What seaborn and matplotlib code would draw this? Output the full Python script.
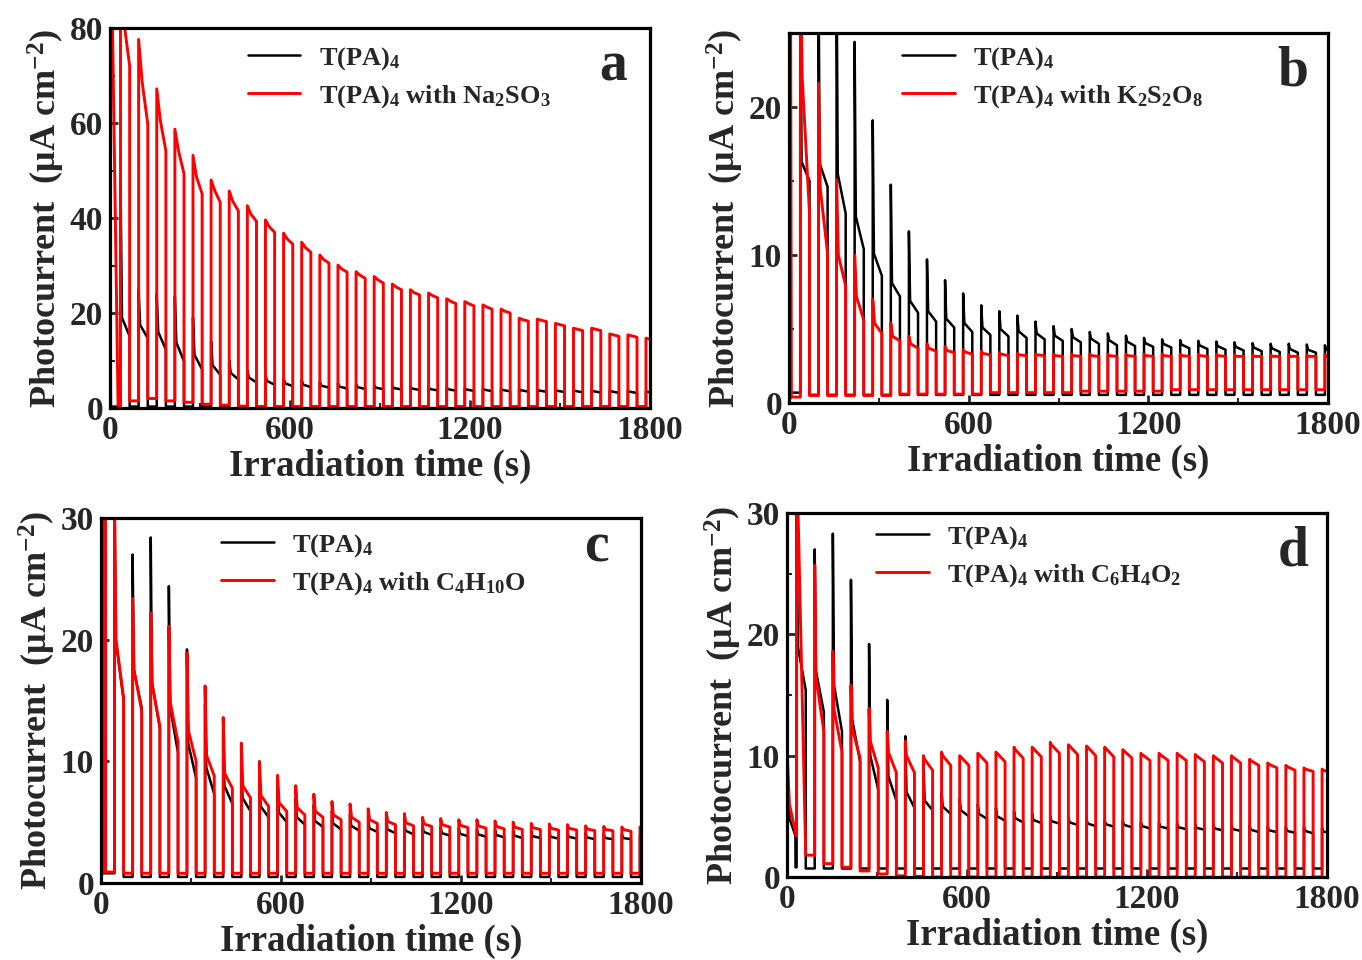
import numpy as np
import pandas as pd
import matplotlib
matplotlib.use("Agg")
import matplotlib.pyplot as plt
from matplotlib.ticker import MultipleLocator
import seaborn as sns

sns.set_style("ticks")
plt.rcParams["font.family"] = ["Liberation Serif", "DejaVu Serif"]
plt.rcParams["font.weight"] = "bold"
plt.rcParams["axes.labelweight"] = "bold"
plt.rcParams["mathtext.fontset"] = "custom"
plt.rcParams["mathtext.rm"] = "Liberation Serif:bold"
plt.rcParams["mathtext.bf"] = "Liberation Serif:bold"
plt.rcParams["mathtext.it"] = "Liberation Serif:bold:italic"

# ---------------- chopping protocol (s) ----------------
PERIOD = 60.4
ON_TIME = 30.5
first_on = {"a": 35, "b": 38, "c": 45, "d": 32}

# ---------------- panel a : Na2SO3 (ylim 0-80) ----------------
a_black_peak = [48, 25, 24, 23.5, 19, 14, 10, 8, 7, 6.3, 5.9, 5.5, 5.2, 5.0, 4.8, 4.6, 4.5, 4.4, 4.3, 4.2,
                4.1, 4.0, 3.95, 3.9, 3.85, 3.8, 3.75, 3.7, 3.65, 3.6]
a_black_mid = [19, 17.5, 16.0, 13.8, 11.2, 9.0, 7.4, 6.4, 5.7, 5.2, 4.9, 4.7, 4.5, 4.4, 4.3, 4.2, 4.1, 4.0, 3.95, 3.9,
               3.85, 3.8, 3.75, 3.7, 3.65, 3.6, 3.55, 3.5, 3.45, 3.4]
a_black_end = [15.1, 14.7, 12.3, 9.8, 8.1, 7.0, 6.0, 5.4, 4.9, 4.6, 4.4, 4.3, 4.1, 4.0, 3.95, 3.9, 3.8, 3.7, 3.65, 3.6,
               3.55, 3.5, 3.45, 3.4, 3.35, 3.3, 3.25, 3.2, 3.15, 3.1]
a_black_dark = [0.3] * 30
a_black_init_t = [0, 1, 3]
a_black_init_v = [0.3, 30, 0.3]

a_red_peak = [88, 77.6, 67.2, 58.7, 53.2, 48.0, 45.7, 42.6, 39.6, 36.8, 34.9, 32.2, 30.1, 28.7, 27.7, 26.1, 24.9,
              24.2, 23.0, 22.4, 21.7, 20.8, 18.9, 18.7, 17.8, 16.8, 16.8, 15.6, 15.4, 14.7]
a_red_mid = [81, 68.5, 60.5, 54.2, 48.6, 45.8, 43.5, 40.8, 38.2, 35.6, 33.8, 31.3, 29.3, 28.0, 27.0, 25.5, 24.3,
             23.7, 22.5, 22.0, 21.3, 20.4, 18.6, 18.5, 17.6, 16.6, 16.6, 15.4, 15.2, 14.5]
a_red_end = [72, 59.8, 54.1, 49.3, 45.1, 43.3, 41.5, 39.3, 37.0, 34.5, 32.8, 30.5, 28.6, 27.3, 26.3, 24.9, 23.8,
             23.2, 22.0, 21.5, 20.8, 20.0, 18.3, 18.2, 17.3, 16.3, 16.3, 15.1, 14.9, 14.3]
a_red_dark = [1.5, 2.0, 1.5, 1.2, 0.8, 0.6, 0.4, 0.3] + [0.15] * 22
a_red_init_t = [0, 8, 27]
a_red_init_v = [90, 82, 0.3]

# ---------------- panel b : K2S2O8 (ylim 0-25) ----------------
b_black_peak = [30, 30, 30, 24.4, 19.1, 14.75, 11.6, 9.7, 8.3, 7.4, 6.6, 6.2, 5.9, 5.5, 5.2, 5.0, 4.8, 4.7, 4.55,
                4.4, 4.3, 4.25, 4.2, 4.15, 4.1, 4.05, 4.0, 4.0, 3.95, 3.9]
b_black_mid = [16.3, 16.2, 15.5, 12.6, 10.1, 8.1, 6.9, 6.2, 5.7, 5.4, 5.1, 5.0, 4.85, 4.7, 4.55, 4.45, 4.35, 4.25,
               4.15, 4.05, 4.0, 3.95, 3.9, 3.85, 3.8, 3.75, 3.7, 3.65, 3.6, 3.6]
b_black_end = [15.0, 14.6, 12.8, 10.4, 8.6, 7.2, 6.1, 5.5, 5.1, 4.8, 4.6, 4.5, 4.4, 4.3, 4.2, 4.1, 4.0, 3.9, 3.85,
               3.8, 3.75, 3.7, 3.65, 3.6, 3.55, 3.5, 3.45, 3.4, 3.4, 3.4]
b_black_dark = [0.55] * 30
b_black_init_t = [0]
b_black_init_v = [0.7]

b_red_peak = [30, 21.6, 15.1, 10.0, 7.0, 5.4, 4.5, 4.0, 3.8, 3.6, 3.5, 3.4, 3.35, 3.3, 3.3, 3.3, 3.3, 3.3, 3.3,
              3.3, 3.3, 3.3, 3.3, 3.3, 3.25, 3.25, 3.25, 3.25, 3.25, 3.25]
b_red_mid = [22, 14.5, 10.0, 7.2, 5.4, 4.5, 4.0, 3.7, 3.55, 3.45, 3.35, 3.3, 3.25, 3.25, 3.2, 3.2, 3.2, 3.2, 3.2,
             3.2, 3.2, 3.2, 3.2, 3.2, 3.15, 3.15, 3.15, 3.15, 3.15, 3.15]
b_red_end = [12.8, 10.1, 7.9, 5.6, 4.7, 4.2, 3.7, 3.5, 3.4, 3.3, 3.25, 3.2, 3.2, 3.2, 3.15, 3.15, 3.15, 3.15, 3.15,
             3.15, 3.15, 3.15, 3.15, 3.15, 3.15, 3.15, 3.15, 3.15, 3.15, 3.15]
b_red_dark = [0.5] * 5 + [0.6] * 5 + [0.7] * 5 + [0.8] * 5 + [0.9] * 10
b_red_init_t = [0, 4, 5, 8]
b_red_init_v = [0.2, 0.3, 30, 0.4]

# ---------------- panel c : C4H10O (ylim 0-30) ----------------
c_black_peak = [32, 27.0, 28.4, 24.4, 19.2, 14.7, 12.0, 10.0, 8.8, 7.8, 7.0, 6.4, 5.9, 5.6, 5.3, 5.1, 4.9, 4.7,
                4.6, 4.5, 4.4, 4.35, 4.3, 4.25, 4.2, 4.15, 4.1, 4.05, 4.0, 3.95]
c_black_mid = [20, 17.5, 16.5, 14.5, 11.5, 9.5, 8.0, 7.0, 6.3, 5.8, 5.4, 5.1, 4.9, 4.7, 4.5, 4.4, 4.3, 4.2, 4.1,
               4.05, 4.0, 3.95, 3.9, 3.85, 3.8, 3.8, 3.75, 3.7, 3.7, 3.65]
c_black_end = [15.0, 14.4, 12.7, 10.7, 8.6, 7.3, 6.5, 5.9, 5.4, 5.0, 4.8, 4.6, 4.4, 4.3, 4.2, 4.1, 4.0, 3.95, 3.9,
               3.85, 3.8, 3.75, 3.7, 3.7, 3.65, 3.65, 3.6, 3.6, 3.6, 3.55]
c_black_dark = [0.5] * 30
c_black_init_t = [0]
c_black_init_v = [0.8]

c_red_peak = [32, 23.4, 22.2, 21.1, 18.9, 16.2, 13.6, 11.5, 10.0, 8.85, 8.0, 7.3, 6.7, 6.5, 6.1, 5.8, 5.7, 5.4, 5.3,
              5.2, 5.2, 5.1, 5.0, 4.9, 4.85, 4.8, 4.7, 4.65, 4.6, 4.6]
c_red_mid = [20, 17.5, 16.3, 14.8, 12.5, 10.5, 9.0, 8.0, 7.2, 6.6, 6.2, 5.9, 5.6, 5.4, 5.2, 5.05, 4.95, 4.85, 4.8,
             4.75, 4.7, 4.65, 4.6, 4.55, 4.5, 4.5, 4.45, 4.4, 4.4, 4.4]
c_red_end = [15.2, 14.1, 12.9, 11.6, 10.0, 8.8, 7.8, 7.0, 6.3, 5.9, 5.6, 5.4, 5.2, 5.0, 4.9, 4.8, 4.7, 4.65, 4.6,
             4.55, 4.5, 4.45, 4.4, 4.4, 4.35, 4.35, 4.3, 4.3, 4.25, 4.25]
c_red_dark = [0.8] * 30
c_red_init_t = [0, 8, 8.5, 15, 15.5]
c_red_init_v = [0.8, 0.8, 32, 31, 0.9]

# ---------------- panel d : C6H4O2 (ylim 0-30) ----------------
d_black_peak = [32, 27.0, 28.3, 24.5, 19.2, 14.6, 11.6, 9.5, 7.0, 6.4, 6.0, 5.7, 5.4, 5.2, 5.0, 4.9, 4.8, 4.7, 4.6,
                4.5, 4.45, 4.4, 4.35, 4.3, 4.25, 4.2, 4.15, 4.1, 4.1, 4.05]
d_black_mid = [19, 17.0, 15.8, 13.0, 10.0, 8.3, 7.0, 6.3, 5.8, 5.5, 5.2, 5.0, 4.85, 4.7, 4.6, 4.5, 4.4, 4.35, 4.3,
               4.2, 4.15, 4.1, 4.05, 4.0, 3.95, 3.9, 3.85, 3.8, 3.8, 3.75]
d_black_end = [15.4, 13.6, 12.0, 9.5, 7.2, 6.3, 5.7, 5.5, 5.2, 5.0, 4.8, 4.65, 4.5, 4.45, 4.4, 4.3, 4.2, 4.15, 4.1,
               4.0, 4.0, 3.95, 3.9, 3.85, 3.8, 3.7, 3.7, 3.65, 3.6, 3.6]
d_black_dark = [0.7] * 30
d_black_init_t = [0, 0.5, 6, 28, 28.5]
d_black_init_v = [0.8, 8, 5, 3.4, 0.8]

d_red_peak = [32, 25.7, 18.6, 15.8, 13.9, 12.0, 11.2, 10.0, 10.3, 10.0, 10.2, 10.3, 10.7, 10.7, 11.1, 10.9, 10.8,
              10.7, 10.5, 10.2, 10.2, 10.2, 10.1, 10.0, 10.0, 9.7, 9.4, 9.2, 9.0, 8.9]
d_red_mid = [31, 16.5, 13.8, 12.3, 11.2, 10.3, 10.0, 9.7, 10.0, 9.9, 10.1, 10.2, 10.5, 10.6, 10.9, 10.8, 10.7,
             10.6, 10.4, 10.1, 10.1, 10.1, 10.0, 9.9, 9.9, 9.6, 9.3, 9.1, 8.9, 8.8]
d_red_end = [2.0, 12.0, 10.3, 9.8, 9.0, 8.6, 8.6, 8.8, 9.2, 9.2, 9.4, 9.5, 9.8, 9.9, 10.2, 10.1, 10.0, 9.9, 9.8,
             9.6, 9.6, 9.6, 9.5, 9.4, 9.4, 9.2, 9.0, 8.8, 8.7, 8.6]
d_red_dark = [1.8, 1.1, 0.8, 0.5, 0.25, 0.1, 0.05] + [0.0] * 23
d_red_init_t = [0, 1, 8, 31]
d_red_init_v = [32, 10, 6.0, 3.4]

# ---------------- labels ----------------
panel_letters = ["a", "b", "c", "d"]
black_label = "T(PA)$_4$"
red_labels = ["T(PA)$_4$ with Na$_2$SO$_3$", "T(PA)$_4$ with K$_2$S$_2$O$_8$",
              "T(PA)$_4$ with C$_4$H$_{10}$O", "T(PA)$_4$ with C$_6$H$_4$O$_2$"]
y_max = [80, 25, 30, 30]
y_major = [20, 10, 10, 10]
x_ticks = [0, 600, 1200, 1800]
x_label = "Irradiation time (s)"
y_label = "Photocurrent  (μA cm$^{-2}$)"

series = {
    "a": [(a_black_peak, a_black_mid, a_black_end, a_black_dark, 5, a_black_init_t, a_black_init_v),
          (a_red_peak, a_red_mid, a_red_end, a_red_dark, 12, a_red_init_t, a_red_init_v)],
    "b": [(b_black_peak, b_black_mid, b_black_end, b_black_dark, 4, b_black_init_t, b_black_init_v),
          (b_red_peak, b_red_mid, b_red_end, b_red_dark, 6, b_red_init_t, b_red_init_v)],
    "c": [(c_black_peak, c_black_mid, c_black_end, c_black_dark, 4, c_black_init_t, c_black_init_v),
          (c_red_peak, c_red_mid, c_red_end, c_red_dark, 5, c_red_init_t, c_red_init_v)],
    "d": [(d_black_peak, d_black_mid, d_black_end, d_black_dark, 4, d_black_init_t, d_black_init_v),
          (d_red_peak, d_red_mid, d_red_end, d_red_dark, 4, d_red_init_t, d_red_init_v)],
}


def build_trace(t0, peak, mid, end, dark, mid_dt, init_t, init_v):
    ts = list(init_t)
    vs = list(init_v)
    prev = vs[-1]
    for k in range(len(peak)):
        tr = t0 + PERIOD * k
        if tr >= 1800:
            break
        for t, v in [(tr, prev), (tr, peak[k]), (tr + mid_dt, mid[k]),
                     (tr + ON_TIME, end[k]), (tr + ON_TIME, dark[k])]:
            ts.append(t)
            vs.append(v)
        prev = dark[k]
    ts.append(1830)
    vs.append(prev)
    return pd.DataFrame({"time": ts, "current": vs})


fig = plt.figure(figsize=(13.62, 9.6), dpi=100)
W, H = 1362, 960
boxes = [(110, 28, 650, 408), (789, 33, 1328, 403), (101, 518, 641, 883), (787, 513, 1327, 877)]
legend_anchor = [(0.255, 0.955), (0.21, 0.967), (0.222, 0.962), (0.165, 0.97)]
letter_pos = [(0.931, 0.90), (0.935, 0.895), (0.918, 0.92), (0.937, 0.895)]

for i, key in enumerate(panel_letters):
    l, t, r, b = boxes[i]
    ax = fig.add_axes([l / W, 1 - b / H, (r - l) / W, (b - t) / H])
    for j, (pk, md, en, dk, mdt, it, iv) in enumerate(series[key]):
        df = build_trace(first_on[key], pk, md, en, dk, mdt, it, iv)
        sns.lineplot(data=df, x="time", y="current", sort=False, estimator=None, ax=ax,
                     color="black" if j == 0 else "#ff0000",
                     linewidth=1.8 if j == 0 else 2.1,
                     label=black_label if j == 0 else red_labels[i])
    ax.set_xlim(0, 1800)
    ax.set_ylim(0, y_max[i])
    ax.set_xticks(x_ticks)
    ax.xaxis.set_minor_locator(MultipleLocator(300))
    ax.yaxis.set_major_locator(MultipleLocator(y_major[i]))
    ax.yaxis.set_minor_locator(MultipleLocator(y_major[i] / 2))
    ax.tick_params(which="major", direction="in", length=6, width=2, labelsize=24, pad=5)
    ax.tick_params(which="minor", direction="in", length=3.5, width=1.5)
    for s in ax.spines.values():
        s.set_linewidth(2.3)
        s.set_color("black")
    ax.set_xlabel(x_label, fontsize=26.5, fontweight="bold", labelpad=2)
    ax.set_ylabel(y_label, fontsize=26, fontweight="bold", labelpad=2)
    h, lab = ax.get_legend_handles_labels()
    ax.legend(h, lab, loc="upper left", bbox_to_anchor=legend_anchor[i], frameon=False,
              fontsize=19, handlelength=2.0, handletextpad=0.7, labelspacing=0.42,
              borderpad=0, borderaxespad=0)
    ax.text(letter_pos[i][0], letter_pos[i][1], key, transform=ax.transAxes, fontsize=40,
            fontweight="bold", ha="center", va="center")

fig.savefig("out.png", dpi=100)
